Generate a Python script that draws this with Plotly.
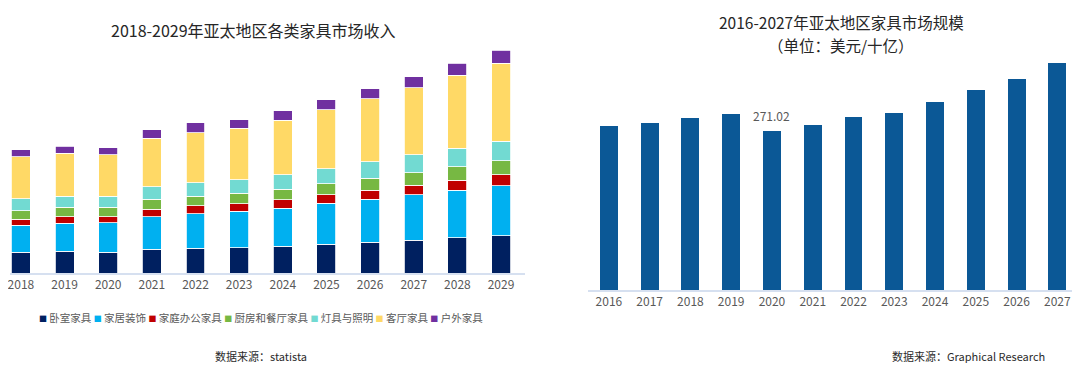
import plotly.graph_objects as go

# page has an 8px body margin: the figure is sized to fit inside the window
OFF = 8
W, H = 1080 - 2 * OFF, 371 - 2 * OFF

# ---------------- data: left chart ----------------
years_left = ["2018", "2019", "2020", "2021", "2022", "2023",
              "2024", "2025", "2026", "2027", "2028", "2029"]
series_names = ["卧室家具", "家居装饰", "家庭办公家具", "厨房和餐厅家具",
                "灯具与照明", "客厅家具", "户外家具"]
bedroom = [21.0, 21.7, 20.7, 24.0, 24.7, 25.3, 26.7, 28.7, 30.7, 32.7, 35.3, 37.3]
decor = [27.0, 28.3, 29.7, 32.3, 34.7, 36.3, 38.3, 41.0, 43.3, 45.7, 47.3, 50.0]
home_office = [5.7, 6.3, 6.0, 7.3, 7.7, 7.7, 8.3, 8.7, 9.0, 9.3, 10.0, 11.0]
kitchen_dining = [8.7, 9.3, 9.3, 10.0, 9.7, 10.3, 10.7, 11.0, 11.7, 12.7, 13.7, 14.0]
lighting = [11.7, 11.0, 11.0, 12.7, 13.3, 13.7, 14.3, 15.0, 16.7, 17.7, 18.7, 19.7]
living_room = [42.3, 43.3, 41.7, 48.7, 50.0, 51.3, 54.7, 58.7, 63.0, 67.3, 72.7, 78.0]
outdoor = [6.7, 7.0, 7.0, 8.3, 10.0, 8.7, 9.3, 10.0, 10.0, 11.0, 12.0, 13.0]
series_values = [bedroom, decor, home_office, kitchen_dining, lighting, living_room, outdoor]
series_colors = ["#002060", "#00b0f0", "#c00000", "#77b843", "#72dad2", "#ffd966", "#7030a0"]

# ---------------- data: right chart ----------------
years_right = ["2016", "2017", "2018", "2019", "2020", "2021",
               "2022", "2023", "2024", "2025", "2026", "2027"]
market_size = [279.5, 284.1, 293.2, 300.6, 271.02, 281.3,
               294.3, 301.7, 321.0, 340.3, 359.1, 387.5]
labelled_year = "2020"

FONT = "Noto Sans CJK SC"
TICK_COLOR = "#595959"
AXIS_COLOR = "#d6e0f0"

fig = go.Figure()

for name, vals, col in zip(series_names, series_values, series_colors):
    fig.add_trace(go.Bar(
        x=years_left, y=vals, name=name, xaxis="x", yaxis="y",
        marker=dict(color=col, line=dict(color="white", width=0.8)),
        width=0.435, showlegend=False, hoverinfo="name+y",
    ))

fig.add_trace(go.Bar(
    x=years_right, y=market_size, xaxis="x2", yaxis="y2",
    marker=dict(color="#0b5896", line=dict(width=0)),
    width=0.44, showlegend=False,
))


def px_x(p):
    """window pixel x -> paper coordinate"""
    return min(max((p - OFF) / W, 0), 1)


def px_y(p):
    """window pixel y (from top) -> paper coordinate"""
    return min(max(1 - (p - OFF) / H, 0), 1)


fig.update_layout(
    width=W, height=H,
    margin=dict(l=0, r=0, t=0, b=0),
    paper_bgcolor="white", plot_bgcolor="white",
    barmode="stack",
    font=dict(family=FONT, color=TICK_COLOR),
    xaxis=dict(domain=[px_x(8), px_x(524)], type="category", range=[-0.25, 11.55],
               showline=True, linecolor=AXIS_COLOR, linewidth=1.5,
               ticks="", showgrid=False, anchor="y",
               tickfont=dict(size=12, color=TICK_COLOR, family=FONT)),
    yaxis=dict(domain=[px_y(273), px_y(40)], range=[0, 233], visible=False,
               showgrid=False, anchor="x"),
    xaxis2=dict(domain=[px_x(587), px_x(1072)], type="category", range=[-0.514, 11.36],
                showline=True, linecolor=AXIS_COLOR, linewidth=1.5,
                ticks="", showgrid=False, anchor="y2",
                tickfont=dict(size=12, color=TICK_COLOR, family=FONT)),
    yaxis2=dict(domain=[px_y(290), px_y(50)], range=[0, 409], visible=False,
                showgrid=False, anchor="x2"),
)

ann = []
# titles
ann.append(dict(text="2018-2029年亚太地区各类家具市场收入", x=px_x(252), y=px_y(30),
                xref="paper", yref="paper", showarrow=False,
                font=dict(size=16, color="#262626", family=FONT),
                xanchor="center", yanchor="middle"))
ann.append(dict(text="2016-2027年亚太地区家具市场规模", x=px_x(841), y=px_y(22.5),
                xref="paper", yref="paper", showarrow=False,
                font=dict(size=15.5, color="#262626", family=FONT),
                xanchor="center", yanchor="middle"))
ann.append(dict(text="（单位：美元/十亿）", x=px_x(841), y=px_y(45),
                xref="paper", yref="paper", showarrow=False,
                font=dict(size=15.5, color="#262626", family=FONT),
                xanchor="center", yanchor="middle"))
# sources
ann.append(dict(text="数据来源：statista", x=px_x(259), y=px_y(355.5),
                xref="paper", yref="paper", showarrow=False,
                font=dict(size=11, color="#2b2b2b", family=FONT),
                xanchor="center", yanchor="middle"))
ann.append(dict(text="数据来源：Graphical Research", x=px_x(968), y=px_y(355.5),
                xref="paper", yref="paper", showarrow=False,
                font=dict(size=11, color="#2b2b2b", family=FONT),
                xanchor="center", yanchor="middle"))
# data label on right chart (positioned by the bar's category index and value)
idx = years_right.index(labelled_year)
ann.append(dict(text=f"{market_size[idx]:.2f}", x=idx, y=market_size[idx],
                xref="x2", yref="y2", showarrow=False, yshift=15,
                font=dict(size=12, color=TICK_COLOR, family=FONT),
                xanchor="center", yanchor="middle"))
# legend for left chart (compact, as in reference)
parts = []
for name, col in zip(series_names, series_colors):
    parts.append(f'<span style="color:{col};font-size:8px">■</span> {name}')
legend_text = " ".join(parts)
ann.append(dict(text=legend_text, x=px_x(259), y=px_y(317),
                xref="paper", yref="paper", showarrow=False,
                font=dict(size=10.5, color=TICK_COLOR, family=FONT),
                xanchor="center", yanchor="middle"))

fig.update_layout(annotations=ann)

fig.write_html("out.html")
